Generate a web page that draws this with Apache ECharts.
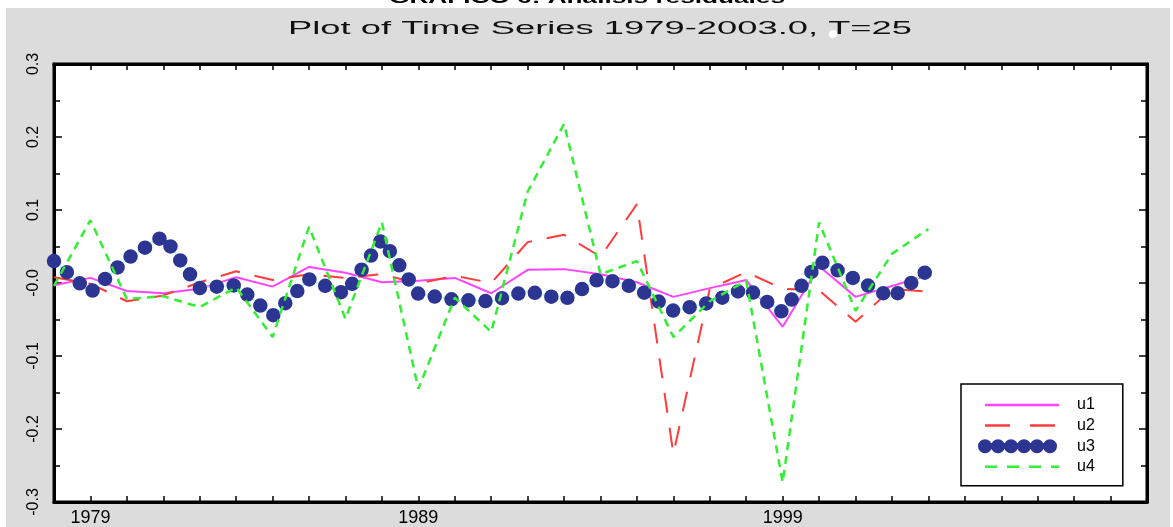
<!DOCTYPE html>
<html><head><meta charset="utf-8">
<script src="https://cdn.jsdelivr.net/npm/echarts@6/dist/echarts.min.js"></script>
<style>
html,body{margin:0;padding:0;background:#fff;overflow:hidden}
#bg{position:absolute;left:6px;top:8px;width:1164px;height:519px;background:#dcdcdc}
#c{position:absolute;left:0;top:0;width:1173px;height:527px}
</style></head>
<body><div id="bg"></div><div id="c"></div>
<script>
// Observations 1979..2003 (T=25), plotted at positions 0..24 on a 0..30 axis
const years = [1979,1980,1981,1982,1983,1984,1985,1986,1987,1988,1989,1990,1991,1992,1993,1994,1995,1996,1997,1998,1999,2000,2001,2002,2003];
const u1 = [-0.003, 0.007, -0.011, -0.014, -0.008, 0.008, -0.005, 0.022, 0.014, 0.001, 0.003, 0.007, -0.014, 0.018, 0.019, 0.012, 0.001, -0.019, -0.007, 0.004, -0.060, 0.023, -0.019, -0.004, 0.011];
const u2 = [0.008, -0.001, -0.025, -0.017, 0.001, 0.016, 0.004, 0.012, 0.007, 0.012, -0.001, 0.010, 0.000, 0.056, 0.066, 0.036, 0.108, -0.234, -0.008, 0.015, -0.008, -0.010, -0.053, -0.008, -0.012];
const u3 = [0.030, -0.013, 0.033, 0.064, -0.007, -0.003, -0.045, 0.005, -0.015, 0.060, -0.015, -0.023, -0.025, -0.011, -0.023, 0.007, -0.007, -0.038, -0.027, -0.007, -0.040, 0.030, 0.005, -0.020, 0.018];
const u4 = [-0.004, 0.086, -0.022, -0.018, -0.033, -0.006, -0.074, 0.077, -0.049, 0.083, -0.145, -0.020, -0.067, 0.125, 0.218, 0.012, 0.030, -0.074, -0.025, 0.003, -0.273, 0.083, -0.038, 0.040, 0.074];
const xLabelPos = [1, 10, 20];
const xLabelText = ['1979', '1989', '1999'];
const yLabelText = ['-0.3', '-0.2', '-0.1', '-0.0', '0.1', '0.2', '0.3'];
const mainTitle = 'GRÁFICO 6: Análisis residuales';
const subTitle = 'Plot of Time Series 1979-2003.0, T=25';

function pairs(arr){ return years.map((y, i) => [i, arr[i]]); }
function fitScale(text, font, target){
  const ctx = document.createElement('canvas').getContext('2d');
  ctx.font = font;
  return target / ctx.measureText(text).width;
}
const titleFont = 'bold 17px "Liberation Sans"';
const subFont = '18px "Liberation Sans"';

const chart = echarts.init(document.getElementById('c'), null, {renderer:'canvas'});
const axisLineStyle = {color:'#000', width:3};
const tickStyle = {color:'#000', width:1.5};
const baseX = {type:'value', min:0, max:30, interval:1, splitLine:{show:false},
  axisLine:{show:true, onZero:false, lineStyle:axisLineStyle},
  axisTick:{show:true, inside:true, length:6, lineStyle:tickStyle}};
const baseY = {type:'value', min:-0.3, max:0.3, interval:0.1, splitLine:{show:false},
  axisLine:{show:true, onZero:false, lineStyle:axisLineStyle},
  axisTick:{show:true, inside:true, length:8, lineStyle:tickStyle},
  minorTick:{show:true, splitNumber:2, length:6, lineStyle:tickStyle},
  minorSplitLine:{show:false}};

chart.setOption({
  animation:false,
  backgroundColor:'transparent',
  textStyle:{fontFamily:'Liberation Sans'},
  grid:{left:54, top:64, right:26, bottom:23, show:true, backgroundColor:'#fff', borderColor:'#000', borderWidth:3},
  graphic:[
    {type:'text', x:587, y:7, scaleX:fitScale(mainTitle, titleFont, 396), silent:true,
     style:{text:mainTitle, font:titleFont, fill:'#000', align:'center', verticalAlign:'bottom'}},
    {type:'text', x:600, y:29, scaleX:fitScale(subTitle, subFont, 624), silent:true,
     style:{text:subTitle, font:subFont, fill:'#111', align:'center', verticalAlign:'middle'}},
    {type:'circle', shape:{cx:833, cy:34, r:4}, style:{fill:'#fff'}, silent:true}
  ],
  xAxis:[
    Object.assign({}, baseX, {position:'bottom',
      axisLabel:{show:true, margin:7, fontSize:18, color:'#000', fontFamily:'Liberation Sans',
        formatter:function(v){ const k = xLabelPos.indexOf(Math.round(v)); return k >= 0 ? xLabelText[k] : ''; }}}),
    Object.assign({}, baseX, {position:'top', axisLabel:{show:false}})
  ],
  yAxis:[
    Object.assign({}, baseY, {position:'left',
      axisLabel:{show:true, rotate:90, margin:12, fontSize:16, color:'#000', fontFamily:'Liberation Sans',
        formatter:function(v){ return yLabelText[Math.round(v*10)+3]; }}}),
    Object.assign({}, baseY, {position:'right', axisLabel:{show:false}})
  ],
  legend:{
    orient:'vertical', left:961, top:384,
    padding:[13,28,11,17], itemWidth:74, itemHeight:14, itemGap:4.6,
    backgroundColor:'#fff', borderColor:'#000', borderWidth:1.5, borderRadius:0,
    selectedMode:false,
    textStyle:{fontSize:16, color:'#000', fontFamily:'Liberation Sans', padding:[0,0,0,13]},
    data:[
      {name:'u1', itemStyle:{opacity:0}, lineStyle:{width:2.5}},
      {name:'u2', itemStyle:{opacity:0}, lineStyle:{width:2.5, type:[25,20]}},
      {name:'u3', itemStyle:{opacity:0}, lineStyle:{width:14, type:[0,13], cap:'round'}},
      {name:'u4', itemStyle:{opacity:0}, lineStyle:{width:2.5, type:[12,10]}}
    ]
  },
  series:[
    {name:'u1', type:'line', data:pairs(u1), symbol:'none', silent:true,
     itemStyle:{color:'#ff44ff'}, lineStyle:{color:'#ff44ff', width:2}},
    {name:'u2', type:'line', data:pairs(u2), symbol:'none', silent:true,
     itemStyle:{color:'#ff3b3b'}, lineStyle:{color:'#ff3b3b', width:2, type:[20,15]}},
    {name:'u3 guide', type:'line', data:pairs(u3), symbol:'none', silent:true,
     itemStyle:{color:'#a8ffff'}, lineStyle:{color:'#a8ffff', width:1.5}},
    {name:'u3', type:'line', data:pairs(u3), symbol:'none', silent:true,
     itemStyle:{color:'#2c3592'}, lineStyle:{color:'#2c3592', width:14.5, type:[0,17], cap:'round'}},
    {name:'u4', type:'line', data:pairs(u4), symbol:'none', silent:true,
     itemStyle:{color:'#33ee33'}, lineStyle:{color:'#33ee33', width:2.5, type:[8,6]}}
  ]
});
</script>
</body></html>
